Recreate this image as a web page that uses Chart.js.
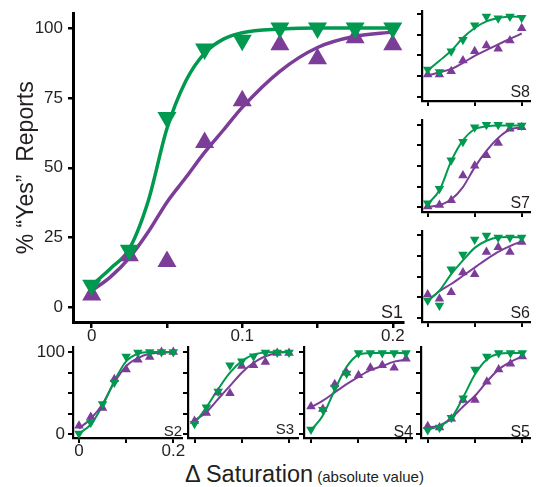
<!DOCTYPE html>
<html><head><meta charset="utf-8">
<script src="https://cdn.jsdelivr.net/npm/chart.js@4.4.1/dist/chart.umd.min.js"></script>
<style>
html,body{margin:0;padding:0;background:#fff;width:538px;height:487px;overflow:hidden;position:relative;font-family:"Liberation Sans",Arial,sans-serif;}
.pc{position:absolute;}
#xtitle{position:absolute;left:185px;top:462px;white-space:nowrap;color:#231f20;font-size:23.5px;line-height:24px;}
#xtitle .small{font-size:15px;}
</style></head><body>
<div id="xtitle">Δ Saturation<span class="small"> (absolute value)</span></div>
<script>
// ---- data ----
const xLevels = [0, 0.025, 0.05, 0.075, 0.1, 0.125, 0.15, 0.175, 0.2];
const fitXMain = [0, 0.0125, 0.025, 0.0375, 0.05, 0.0625, 0.075, 0.0875, 0.1, 0.125, 0.15, 0.175, 0.2];

const s1Green = [8, 20.5, 68, 92.5, 95.6, 100, 100, 100, 100];
const s1Purple = [4.5, 18.5, 16.5, 59, 74, 94, 89, 96.5, 94];
const s1GreenFit = [8, 14, 21, 38, 64, 81, 91, 96, 98.3, 99.6, 100, 100, 100];
const s1PurpleFit = [6, 11, 17.8, 27, 37.7, 46.5, 55.5, 63.5, 71.6, 84.5, 93, 97, 98.5];

const s8Green = [33, 30, 55, 69, 86.5, 97, 95, 97, 95.5];
const s8Purple = [27, 27, 31, 44, 55, 62, 58, 68, 83];
const s8GreenFit = [31.7, 43.7, 55.6, 71.4, 83.3, 91.3, 95.2, 97.2, 96.4];
const s8PurpleFit = [25.8, 29.5, 33.7, 41, 49.6, 56.5, 63.5, 70, 76.6];

const s7Green = [5, 22.6, 57, 79.4, 97, 100, 100, 99, 99];
const s7Purple = [1, 3, 8.7, 38.5, 50.4, 63, 78, 95, 96.8];
const s7GreenFit = [4, 20.6, 56, 81, 94.5, 98, 99, 99, 99];
const s7PurpleFit = [0.5, 2.8, 9.5, 24.6, 48.4, 68.3, 84, 94, 97];

const s6Green = [21, 15, 59, 77, 95, 100, 97.6, 97.6, 97.6];
const s6Purple = [28.3, 23, 31, 55, 53, 80, 85.7, 80, 92];
const s6GreenFit = [20.3, 33, 53, 69.7, 84.9, 93.6, 97.6, 98, 97.6];
const s6PurpleFit = [21, 32.3, 41, 51, 61, 71, 80, 87, 92.8];

const s2Green = [1.2, 14.3, 37, 63, 94.8, 99.6, 100, 100, 100];
const s2Purple = [10.4, 21, 32, 67, 79, 90.8, 94, 100, 100];
const s2GreenFit = [1.2, 12, 35, 65, 88.8, 98, 100, 100, 100];
const s2PurpleFit = [7.2, 19, 37, 63, 83, 92.8, 98, 99.5, 100];

const s3Green = [13, 33, 52, 84, 89, 95, 99.6, 99.6, 99.6];
const s3Purple = [16.3, 26, 51, 50, 83, 84, 88, 98.8, 99];
const s3GreenFit = [13, 33, 55, 75, 89, 97, 99.6, 100, 100];
const s3PurpleFit = [17, 27, 43, 59, 75, 87, 95, 99, 100];

const s4Green = [6, 30, 57, 74, 99, 99, 99, 99, 99];
const s4Purple = [34, 31, 61, 75, 72, 81, 84, 81, 92];
const s4GreenFit = [5, 23, 54, 82, 96.8, 99, 99, 99, 99];
const s4PurpleFit = [33, 41, 51, 61, 70, 78, 83, 88.4, 91];

const s5Green = [5.2, 8.4, 20.3, 44, 79, 94.8, 98.8, 98.8, 98.8];
const s5Purple = [10, 8.4, 19, 41.8, 41.8, 64, 79, 85.7, 94.8];
const s5GreenFit = [6, 10, 20, 45, 73, 91, 98, 99, 99];
const s5PurpleFit = [8.4, 11, 20, 34, 47, 64, 79, 88, 94.8];

const yTickValues = [0, 25, 50, 75, 100];
const mainYLabels = ['0', '25', '50', '75', '100'];
const bottomYLabels = ['0', '', '', '', '100'];
const noYLabels = ['', '', '', '', ''];
const mainXTickValues = [0, 0.05, 0.1, 0.15, 0.2];
const mainXLabels = ['0', '', '0.1', '', '0.2'];
const smallXTickValues = [0, 0.1, 0.2];
const s2XLabels = ['0', '', '0.2'];
const noXLabels = ['', '', ''];

// ---- drawing ----
const GREEN = '#00994f', PURPLE = '#7b3d97', INK = '#231f20';
const FAMILY = '"Liberation Sans", Arial, sans-serif';
function pts(xs, ys) { return xs.map((x, i) => ({x: x, y: ys[i]})); }

const panelLabelPlugin = {
  id: 'panelLabel',
  afterDatasetsDraw(chart, args, opts) {
    const {ctx, chartArea} = chart;
    ctx.save();
    ctx.font = opts.size + 'px ' + FAMILY;
    ctx.fillStyle = INK;
    ctx.textAlign = 'right';
    ctx.textBaseline = 'alphabetic';
    ctx.fillText(opts.text, chartArea.right + (opts.dx || 0), chartArea.bottom - opts.dy);
    ctx.restore();
  }
};

function makePanel(p) {
  const yw = p.yw, padT = p.padT, padR = p.padR, xh = p.xh;
  const cw = yw + p.W + padR, chh = padT + p.H + xh;
  const div = document.createElement('div');
  div.className = 'pc';
  div.style.left = (p.L - yw) + 'px';
  div.style.top = (p.T - padT) + 'px';
  div.style.width = cw + 'px';
  div.style.height = chh + 'px';
  const cv = document.createElement('canvas');
  cv.width = cw; cv.height = chh;
  cv.style.width = cw + 'px'; cv.style.height = chh + 'px';
  div.appendChild(cv);
  document.body.appendChild(div);

  const markerCommon = {showLine: false, pointStyle: 'triangle', pointRadius: p.r, pointBorderWidth: 0, clip: false};
  const lineCommon = {showLine: true, pointRadius: 0, borderWidth: p.lw, cubicInterpolationMode: 'monotone', fill: false, clip: false};

  new Chart(cv, {
    type: 'scatter',
    data: {
      datasets: [
        Object.assign({data: pts(xLevels, p.green), pointRotation: 180, pointBackgroundColor: GREEN, pointBorderColor: GREEN}, markerCommon),
        Object.assign({data: pts(xLevels, p.purple), pointRotation: 0, pointBackgroundColor: PURPLE, pointBorderColor: PURPLE}, markerCommon),
        Object.assign({data: pts(p.fitX, p.greenFit), borderColor: GREEN}, lineCommon),
        Object.assign({data: pts(p.fitX, p.purpleFit), borderColor: PURPLE}, lineCommon)
      ]
    },
    options: {
      responsive: false,
      animation: false,
      devicePixelRatio: 1,
      events: [],
      layout: {padding: {left: 0, top: padT, right: padR, bottom: 0}},
      plugins: {
        legend: {display: false},
        tooltip: {enabled: false},
        panelLabel: {text: p.label, size: p.labelSize, dy: p.labelDy, dx: p.labelDx || 0}
      },
      scales: {
        x: {
          type: 'linear', min: p.xmin, max: p.xmax,
          afterFit: s => { s.height = xh; },
          afterBuildTicks: s => { s.ticks = p.xTicks.map(v => ({value: v})); },
          ticks: {autoSkip: false, maxRotation: 0, minRotation: 0, padding: 0, color: INK,
                  font: {family: FAMILY, size: p.tickFont, lineHeight: 1},
                  callback: (v, i) => p.xLabels[i]},
          grid: {display: true, drawOnChartArea: false, drawTicks: true, tickLength: p.xTickLen,
                 tickWidth: p.tickW, tickColor: '#000', color: '#000', lineWidth: p.tickW},
          border: {display: true, color: '#000', width: p.axisW}
        },
        y: {
          type: 'linear', min: p.ymin, max: p.ymax,
          afterFit: s => { s.width = yw; },
          afterBuildTicks: s => { s.ticks = yTickValues.map(v => ({value: v})); },
          ticks: {autoSkip: false, padding: p.yPad, color: INK,
                  font: {family: FAMILY, size: p.tickFont, lineHeight: 1},
                  callback: (v, i) => p.yLabels[i]},
          grid: {display: true, drawOnChartArea: false, drawTicks: true, tickLength: p.yTickLen,
                 tickWidth: p.tickW, tickColor: '#000', color: '#000', lineWidth: p.tickW},
          border: {display: true, color: '#000', width: p.axisW},
          title: p.yTitle ? {display: true, text: p.yTitle, color: INK,
                  font: {family: FAMILY, size: 23, lineHeight: 1.2}, padding: {top: 13, bottom: 0}} : {display: false}
        }
      }
    },
    plugins: [panelLabelPlugin]
  });
}

const smallBase = {yw: 50, padT: 10, padR: 20, xh: 25, r: 5.5, lw: 2, axisW: 2.2, tickW: 2,
  xTickLen: 5, yTickLen: 5, tickFont: 17, yPad: 3, fitX: xLevels, xTicks: smallXTickValues,
  labelSize: 16};

makePanel({yw: 73, padT: 8, padR: 20, xh: 30, L: 73, T: 8, W: 330, H: 314,
  xmin: -0.01243, xmax: 0.2068, ymin: -5.16, ymax: 105.16,
  r: 11, lw: 3.5, axisW: 3, tickW: 2.5, xTickLen: 6, yTickLen: 5, tickFont: 17, yPad: 5,
  fitX: fitXMain, xTicks: mainXTickValues, xLabels: mainXLabels, yLabels: mainYLabels,
  green: s1Green, purple: s1Purple, greenFit: s1GreenFit, purpleFit: s1PurpleFit,
  label: 'S1', labelSize: 18, labelDy: 4, yTitle: '% “Yes”  Reports'});

makePanel(Object.assign({}, smallBase, {L: 422, T: 10, W: 108, H: 91,
  xmin: -0.0121, xmax: 0.2177, ymin: -5.1, ymax: 103.2, xLabels: noXLabels, yLabels: noYLabels,
  green: s8Green, purple: s8Purple, greenFit: s8GreenFit, purpleFit: s8PurpleFit, label: 'S8', labelDy: 3.7}));
makePanel(Object.assign({}, smallBase, {L: 422, T: 119, W: 108, H: 93,
  xmin: -0.0121, xmax: 0.2177, ymin: -5.6, ymax: 105.1, xLabels: noXLabels, yLabels: noYLabels,
  green: s7Green, purple: s7Purple, greenFit: s7GreenFit, purpleFit: s7PurpleFit, label: 'S7', labelDy: 4.5}));
makePanel(Object.assign({}, smallBase, {L: 422, T: 230, W: 108, H: 92,
  xmin: -0.0121, xmax: 0.2177, ymin: -5.1, ymax: 104.8, xLabels: noXLabels, yLabels: noYLabels,
  green: s6Green, purple: s6Purple, greenFit: s6GreenFit, purpleFit: s6PurpleFit, label: 'S6', labelDy: 3.7}));

makePanel(Object.assign({}, smallBase, {L: 73, T: 346, W: 109, H: 92,
  xmin: -0.0127, xmax: 0.2185, ymin: -4.4, ymax: 105.6, xLabels: s2XLabels, yLabels: bottomYLabels,
  green: s2Green, purple: s2Purple, greenFit: s2GreenFit, purpleFit: s2PurpleFit, label: 'S2', labelSize: 15, labelDy: 2}));
makePanel(Object.assign({}, smallBase, {L: 188, T: 346, W: 110, H: 92,
  xmin: -0.0138, xmax: 0.219, ymin: -4.4, ymax: 105.6, xLabels: noXLabels, yLabels: noYLabels,
  green: s3Green, purple: s3Purple, greenFit: s3GreenFit, purpleFit: s3PurpleFit, label: 'S3', labelSize: 15, labelDy: 4, labelDx: -4}));
makePanel(Object.assign({}, smallBase, {L: 304, T: 346, W: 108, H: 92,
  xmin: -0.0147, xmax: 0.2126, ymin: -4.4, ymax: 105.6, xLabels: noXLabels, yLabels: noYLabels,
  green: s4Green, purple: s4Purple, greenFit: s4GreenFit, purpleFit: s4PurpleFit, label: 'S4', labelDy: 1.5, labelDx: 1}));
makePanel(Object.assign({}, smallBase, {L: 421, T: 346, W: 109, H: 92,
  xmin: -0.0142, xmax: 0.2163, ymin: -4.4, ymax: 105.6, xLabels: noXLabels, yLabels: noYLabels,
  green: s5Green, purple: s5Purple, greenFit: s5GreenFit, purpleFit: s5PurpleFit, label: 'S5', labelDy: 1.5}));
</script>
</body></html>
